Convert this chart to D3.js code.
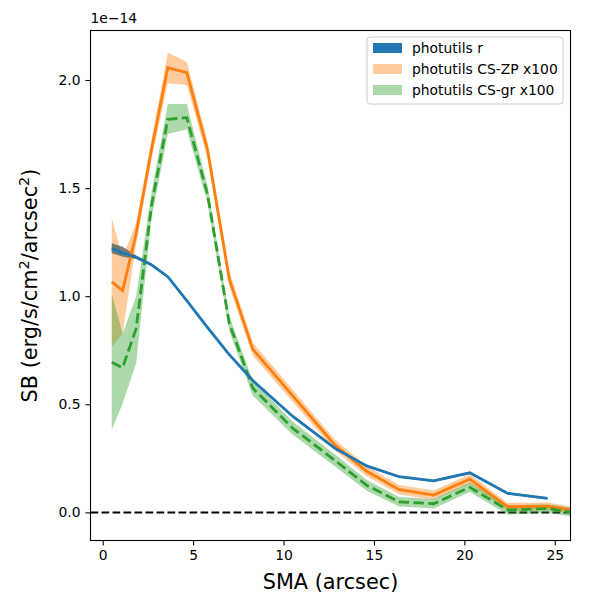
<!DOCTYPE html>
<html>
<head>
<meta charset="utf-8">
<script src="https://cdn.jsdelivr.net/npm/d3@7"></script>
<style>
  body { margin: 0; background: #fff; }
  text { font-family: "DejaVu Sans", sans-serif; }
</style>
</head>
<body>
<div id="chart"></div>
<script>
// values, y in units of 1e-14
var sma = [0.5, 1.1, 1.85, 2.7, 3.6, 4.65, 5.8, 7.0, 8.3, 10.5, 12.85, 14.6, 16.4, 18.3, 20.3, 22.4, 24.6, 26.8];

var rMean = [1.221, 1.200, 1.180, 1.145, 1.090, 0.980, 0.855, 0.730, 0.610, 0.445, 0.296, 0.215, 0.165, 0.146, 0.183, 0.088, 0.065];
var rLo   = [1.199, 1.183, 1.172, 1.138, 1.084, 0.975, 0.850, 0.725, 0.605, 0.440, 0.291, 0.210, 0.160, 0.141, 0.178, 0.083, 0.060];
var rHi   = [1.245, 1.229, 1.188, 1.152, 1.096, 0.985, 0.860, 0.735, 0.615, 0.450, 0.301, 0.220, 0.170, 0.151, 0.188, 0.093, 0.070];

var zpMean = [1.066, 1.026, 1.290, 1.680, 2.057, 2.034, 1.676, 1.080, 0.755, 0.540, 0.311, 0.190, 0.105, 0.080, 0.154, 0.026, 0.028, 0.000];
var zpLo   = [0.766, 0.828, 1.240, 1.635, 1.985, 1.977, 1.636, 1.045, 0.725, 0.512, 0.286, 0.167, 0.083, 0.059, 0.132, 0.008, 0.010, -0.015];
var zpHi   = [1.360, 1.180, 1.340, 1.725, 2.126, 2.085, 1.716, 1.115, 0.785, 0.568, 0.336, 0.213, 0.127, 0.101, 0.176, 0.044, 0.046, 0.015];

var grMean = [0.694, 0.669, 0.850, 1.420, 1.818, 1.826, 1.470, 0.874, 0.575, 0.390, 0.240, 0.125, 0.049, 0.040, 0.116, 0.011, 0.018, -0.010];
var grLo   = [0.381, 0.504, 0.690, 1.360, 1.750, 1.772, 1.430, 0.840, 0.540, 0.360, 0.212, 0.100, 0.027, 0.018, 0.094, -0.010, -0.002, -0.030];
var grHi   = [1.013, 0.828, 1.000, 1.480, 1.889, 1.889, 1.510, 0.908, 0.610, 0.420, 0.268, 0.150, 0.071, 0.062, 0.138, 0.032, 0.038, 0.010];

var xTicks = [0, 5, 10, 15, 20, 25];
var yTicks = [0.0, 0.5, 1.0, 1.5, 2.0];
var legendNames = ["photutils r", "photutils CS-ZP x100", "photutils CS-gr x100"];

var margin = {top: 30.5, right: 29.5, bottom: 59.5, left: 90.5},
    width = 600 - margin.left - margin.right,
    height = 600 - margin.top - margin.bottom;

var svg = d3.select("#chart")
  .append("svg")
    .attr("width", 600)
    .attr("height", 600)
  .append("g")
    .attr("transform", "translate(" + margin.left + "," + margin.top + ")");

var x = d3.scaleLinear().domain([-0.675, 25.87]).range([0, width]);
var y = d3.scaleLinear().domain([-0.130, 2.229]).range([height, 0]);

svg.append("clipPath").attr("id", "clip")
  .append("rect").attr("width", width).attr("height", height);

var plot = svg.append("g").attr("clip-path", "url(#clip)");

function band(lo, hi) {
  var pts = lo.map(function(d, i) { return [sma[i], lo[i], hi[i]]; });
  return d3.area()
    .x(function(d) { return x(d[0]); })
    .y0(function(d) { return y(d[1]); })
    .y1(function(d) { return y(d[2]); })(pts);
}
function line(vals) {
  var pts = vals.map(function(d, i) { return [sma[i], d]; });
  return d3.line()
    .x(function(d) { return x(d[0]); })
    .y(function(d) { return y(d[1]); })(pts);
}

// zero line
plot.append("line")
  .attr("x1", 0).attr("x2", width)
  .attr("y1", y(0)).attr("y2", y(0))
  .style("stroke", "#000").style("stroke-width", 2)
  .style("stroke-dasharray", "7.7,3.3");

plot.append("path").attr("d", band(zpLo, zpHi))
  .style("fill", "#ff7f0e").style("fill-opacity", 0.4).style("stroke", "none");
plot.append("path").attr("d", band(grLo, grHi))
  .style("fill", "#2ca02c").style("fill-opacity", 0.4).style("stroke", "none");
// the r band looks grey over the orange one in the reference
plot.append("path").attr("d", band(rLo, rHi))
  .style("fill", "#5f6a66").style("fill-opacity", 0.85).style("stroke", "none");

plot.append("path").attr("d", line(zpMean))
  .style("fill", "none").style("stroke", "#ff7f0e").style("stroke-width", 2.8);
plot.append("path").attr("d", line(grMean))
  .style("fill", "none").style("stroke", "#2ca02c").style("stroke-width", 2.8)
  .style("stroke-dasharray", "10.3,4.4");
plot.append("path").attr("d", line(rMean))
  .style("fill", "none").style("stroke", "#1f77b4").style("stroke-width", 2.8);

// axes
var xAxis = svg.append("g")
  .attr("transform", "translate(0," + height + ")")
  .call(d3.axisBottom(x).tickValues(xTicks).tickFormat(d3.format("d")).tickSizeOuter(0).tickSize(5).tickPadding(5));
var yAxis = svg.append("g")
  .call(d3.axisLeft(y).tickValues(yTicks).tickFormat(d3.format(".1f")).tickSizeOuter(0).tickSize(5).tickPadding(5));
[xAxis, yAxis].forEach(function(a) {
  a.select(".domain").remove();
  a.selectAll("text").style("font-size", "13.9px").style("font-family", "DejaVu Sans").attr("fill", "#000");
  a.selectAll("line").style("stroke", "#000").style("stroke-width", 1.1);
});

svg.append("rect")
  .attr("width", width).attr("height", height)
  .style("fill", "none").style("stroke", "#000").style("stroke-width", 1.1);

svg.append("text")
  .attr("x", 0).attr("y", -8)
  .style("font-size", "13.9px")
  .text("1e\u221214");

svg.append("text")
  .attr("x", width / 2).attr("y", height + 48)
  .attr("text-anchor", "middle")
  .style("font-size", "20.8px")
  .text("SMA (arcsec)");

var yl = svg.append("text")
  .attr("transform", "translate(-54," + (height / 2) + ") rotate(-90)")
  .attr("text-anchor", "middle")
  .style("font-size", "20.8px");
yl.append("tspan").text("SB (erg/s/cm");
yl.append("tspan").attr("dy", -8).style("font-size", "14.5px").text("2");
yl.append("tspan").attr("dy", 8).text("/arcsec");
yl.append("tspan").attr("dy", -8).style("font-size", "14.5px").text("2");
yl.append("tspan").attr("dy", 8).text(")");

// legend
var lg = svg.append("g").attr("transform", "translate(" + (367 - margin.left) + "," + (37 - margin.top) + ")");
lg.append("rect")
  .attr("width", 196).attr("height", 67).attr("rx", 3)
  .style("fill", "#fff").style("fill-opacity", 0.8)
  .style("stroke", "#ccc").style("stroke-width", 1);
var legendFill = [["#1f77b4", 1], ["#ff7f0e", 0.4], ["#2ca02c", 0.4]];
legendNames.forEach(function(name, i) {
  lg.append("rect")
    .attr("x", 6).attr("y", 6 + i * 21).attr("width", 29).attr("height", 10)
    .style("fill", legendFill[i][0]).style("fill-opacity", legendFill[i][1]);
  lg.append("text")
    .attr("x", 45).attr("y", 16 + i * 21)
    .style("font-size", "13.9px")
    .text(name);
});
</script>
</body>
</html>
